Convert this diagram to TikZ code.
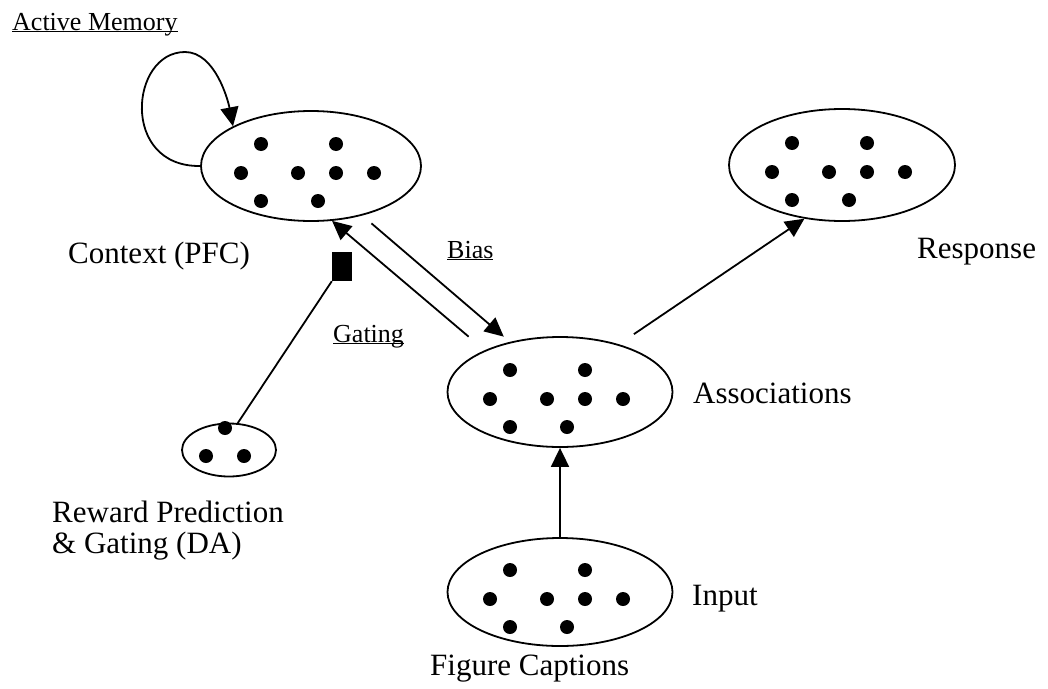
\documentclass[tikz,border=0pt]{standalone}
\usepackage{fontspec}
\setmainfont{Liberation Serif}
\usetikzlibrary{arrows.meta,shapes.geometric,calc}
\newcommand\ulx[1]{\setbox0\hbox{#1}\rlap{\rule[-2.3pt]{\wd0}{1.3pt}}\box0}
\tikzset{
  pool/.style={ellipse,draw,line width=1.8pt,inner sep=0pt},
  lab/.style={anchor=base west,inner sep=0pt,font=\fontsize{31}{36}\selectfont},
  ulab/.style={anchor=base west,inner sep=0pt,font=\fontsize{26}{30}\selectfont},
  conn/.style={line width=1.8pt},
  arr/.style={line width=1.8pt,-{Triangle[length=19pt,width=18pt]}},
}
\newcommand\neuronset[1]{%
  \foreach \dx/\dy in {-50/-22,25/-22,-70/7,-13/7,25/7,63/7,-50/35,7/35}
    \fill ($(#1)+(\dx,\dy)$) circle (7pt);}
\begin{document}
\begin{tikzpicture}[x=1pt,y=-1pt]
\useasboundingbox (0,0) rectangle (1048,688);
% pools
\node[pool,minimum width=220,minimum height=110] (ctx) at (311,166) {};
\node[pool,minimum width=226,minimum height=112] (resp) at (842,165) {};
\node[pool,minimum width=225,minimum height=110] (assoc) at (560,392) {};
\node[pool,minimum width=225,minimum height=108] (inp) at (560,592) {};
\node[pool,minimum width=94,minimum height=53] (da) at (229,450) {};
\neuronset{ctx}
\neuronset{resp}
\neuronset{assoc}
\neuronset{inp}
\foreach \dx/\dy in {-4/-22,-23/6,15/6}
  \fill ($(da)+(\dx,\dy)$) circle (7pt);
% gating square
\node[fill=black,minimum width=20,minimum height=29,inner sep=0pt] (sq) at (342,266.5) {};
% labels
\node[ulab] (am) at (12,30) {\ulx{Active Memory}};
\node[lab] (ctxl) at (68,263) {Context (PFC)};
\node[lab] (respl) at (917,258) {Response};
\node[ulab] (bias) at (447,258) {\ulx{Bias}};
\node[ulab] (gat) at (333,342) {\ulx{Gating}};
\node[lab] (assocl) at (693,403) {Associations};
\node[lab] (rewA) at (52,522) {Reward Prediction};
\node[lab] (rewB) at (52,553) {\& Gating (DA)};
\node[lab] (inpl) at (692,605) {Input};
\node[lab] (figl) at (430,675) {Figure Captions};
% connectors
\coordinate (looptop) at (185,52);
\draw[arr] (ctx.west) .. controls (120,167) and (130,52) .. (looptop)
  .. controls (215,52) and (228,100) .. (ctx.153.4);
\draw[arr,shorten <=12pt,shorten >=8pt] (ctx.-44) -- (assoc.135.5);
\draw[arr,shorten <=21pt] (assoc.151.5) -- (ctx.-69);
\draw[arr,shorten <=18pt] (assoc.39.3) -- (resp.235.6);
\draw[arr] (inp.north) -- (assoc.south);
\draw[conn] (da.72) -- (sq.south west);
\end{tikzpicture}
\end{document}
